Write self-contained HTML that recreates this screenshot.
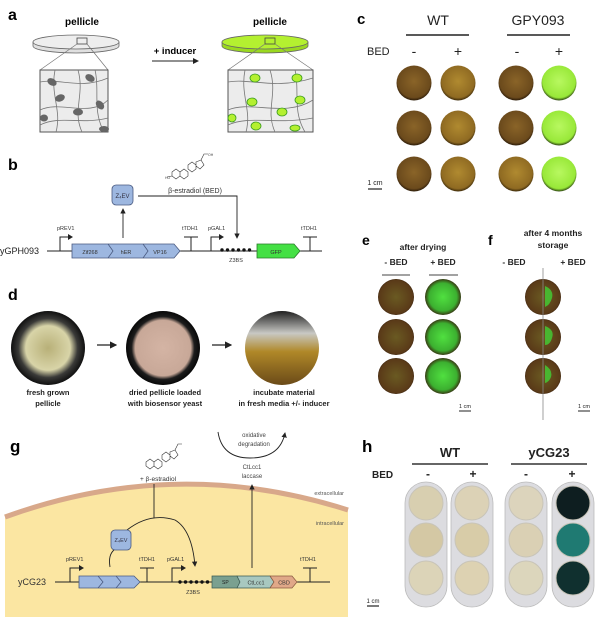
<!DOCTYPE html>
<html><head><meta charset="utf-8"><style>
html,body{margin:0;padding:0;background:#fff;}
svg{display:block;font-family:"Liberation Sans",sans-serif;}
</style></head><body>
<svg width="600" height="622" viewBox="0 0 600 622" xmlns="http://www.w3.org/2000/svg">
<defs>
<radialGradient id="br" cx="50%" cy="45%" r="55%"><stop offset="0" stop-color="#8a6428"/><stop offset="0.85" stop-color="#6b4a1c"/><stop offset="1" stop-color="#2a1a08"/></radialGradient>
<radialGradient id="oc" cx="50%" cy="45%" r="55%"><stop offset="0" stop-color="#b08a30"/><stop offset="0.85" stop-color="#8f6a22"/><stop offset="1" stop-color="#3a2808"/></radialGradient>
<radialGradient id="gr" cx="50%" cy="45%" r="55%"><stop offset="0" stop-color="#b8f860"/><stop offset="0.85" stop-color="#98e838"/><stop offset="1" stop-color="#2a4010"/></radialGradient>
<radialGradient id="eb" cx="50%" cy="50%" r="55%"><stop offset="0" stop-color="#6a5a22"/><stop offset="0.85" stop-color="#5a3a18"/><stop offset="1" stop-color="#1a0e06"/></radialGradient>
<radialGradient id="eg" cx="50%" cy="50%" r="55%"><stop offset="0" stop-color="#50e040"/><stop offset="0.7" stop-color="#3cb030"/><stop offset="0.88" stop-color="#3a4a18"/><stop offset="1" stop-color="#120a04"/></radialGradient>
<radialGradient id="d1" cx="50%" cy="50%" r="50%"><stop offset="0" stop-color="#b8b078"/><stop offset="0.6" stop-color="#d8d4a8"/><stop offset="0.8" stop-color="#3a3a38"/><stop offset="1" stop-color="#101010"/></radialGradient>
<radialGradient id="d2" cx="50%" cy="50%" r="50%"><stop offset="0" stop-color="#d4b4a4"/><stop offset="0.75" stop-color="#c8a898"/><stop offset="0.85" stop-color="#1c1c1c"/><stop offset="1" stop-color="#080808"/></radialGradient>
<linearGradient id="d3" x1="0" y1="0" x2="0" y2="1"><stop offset="0" stop-color="#202020"/><stop offset="0.3" stop-color="#c8c8c4"/><stop offset="0.55" stop-color="#b08828"/><stop offset="1" stop-color="#6a4a18"/></linearGradient>
<marker id="ah" markerWidth="6" markerHeight="6" refX="5" refY="3" orient="auto"><path d="M0,0 L6,3 L0,6 z" fill="#222"/></marker>
</defs>

<!-- ===== a ===== -->
<text x="8" y="20" font-size="16" font-weight="bold">a</text>
<text x="82" y="25" font-size="10" font-weight="bold" text-anchor="middle">pellicle</text>
<text x="270" y="25" font-size="10" font-weight="bold" text-anchor="middle">pellicle</text>
<path d="M33,42 v4 a43,7 0 0 0 86,0 v-4" fill="#e0e0e0" stroke="#666" stroke-width="0.8"/>
<ellipse cx="76" cy="42" rx="43" ry="7" fill="#eeeeee" stroke="#666" stroke-width="0.8"/>
<rect x="77" y="38" width="10" height="6" fill="none" stroke="#444" stroke-width="0.8"/>
<path d="M77,44 L40,70 M87,44 L108,70" stroke="#777" stroke-width="0.7"/>
<rect x="40" y="70" width="68" height="62" fill="#ececec" stroke="#555" stroke-width="1"/>
<g stroke="#777" stroke-width="0.8" fill="none">
<path d="M40,82 C60,78 80,90 108,78"/><path d="M40,110 C60,100 90,118 108,100"/><path d="M55,70 C50,95 62,110 56,132"/><path d="M78,70 C85,95 72,110 82,132"/><path d="M40,125 C60,115 80,125 108,118"/><path d="M95,70 C100,90 92,110 104,132"/>
</g>
<g fill="#666"><ellipse cx="52" cy="82" rx="5" ry="3.5" transform="rotate(30 52 82)"/><ellipse cx="90" cy="78" rx="5" ry="3.5" transform="rotate(30 90 78)"/><ellipse cx="60" cy="98" rx="5" ry="3.5" transform="rotate(-20 60 98)"/><ellipse cx="100" cy="105" rx="5" ry="3.5" transform="rotate(50 100 105)"/><ellipse cx="44" cy="118" rx="4" ry="3.5"/><ellipse cx="78" cy="112" rx="5" ry="3.5"/><ellipse cx="104" cy="129" rx="5" ry="3"/></g>
<text x="175" y="54" font-size="9.5" font-weight="bold" text-anchor="middle">+ inducer</text>
<line x1="152" y1="61" x2="198" y2="61" stroke="#222" stroke-width="1" marker-end="url(#ah)"/>
<path d="M222,42 v4 a43,7 0 0 0 86,0 v-4" fill="#9ad820" stroke="#666" stroke-width="0.8"/>
<ellipse cx="265" cy="42" rx="43" ry="7" fill="#b4f030" stroke="#666" stroke-width="0.8"/>
<rect x="265" y="38" width="10" height="6" fill="none" stroke="#444" stroke-width="0.8"/>
<path d="M265,44 L228,70 M275,44 L313,70" stroke="#777" stroke-width="0.7"/>
<rect x="228" y="70" width="85" height="62" fill="#ececec" stroke="#555" stroke-width="1"/>
<g stroke="#777" stroke-width="0.8" fill="none">
<path d="M228,82 C250,78 275,90 313,78"/><path d="M228,110 C250,100 285,118 313,100"/><path d="M245,70 C240,95 252,110 246,132"/><path d="M270,70 C278,95 265,110 275,132"/><path d="M228,125 C250,115 275,125 313,118"/><path d="M295,70 C300,90 292,110 305,132"/>
</g>
<g fill="#b4f030" stroke="#3a9a20" stroke-width="0.8"><ellipse cx="255" cy="78" rx="5" ry="4"/><ellipse cx="297" cy="78" rx="5" ry="4"/><ellipse cx="252" cy="102" rx="5" ry="4"/><ellipse cx="300" cy="100" rx="5" ry="4"/><ellipse cx="232" cy="118" rx="4" ry="4"/><ellipse cx="256" cy="126" rx="5" ry="4"/><ellipse cx="282" cy="112" rx="5" ry="4"/><ellipse cx="295" cy="128" rx="5" ry="3"/></g>

<!-- ===== b ===== -->
<text x="8" y="170" font-size="16" font-weight="bold">b</text>
<g stroke="#333" stroke-width="0.6" fill="none">
<path d="M172,172 l4,-3 l4,3 l0,4 l-4,3 l-4,-3 z M180,172 l4,-3 l4,3 l0,4 l-4,3 l-4,-3 z M188,165 l4,-3 l4,3 l0,4 l-4,3 l-4,-3 z M196,162 l5,-2 l3,5 l-4,4 l-4,-3 z M201,160 l3,-6 l4,0"/>
<path d="M172,176 l-5,1"/>
</g>
<text x="165" y="179" font-size="3.5" fill="#444">HO</text>
<text x="208" y="156" font-size="3.5" fill="#444">OH</text>
<text x="195" y="193" font-size="7" fill="#333" text-anchor="middle">β-estradiol (BED)</text>
<rect x="112" y="185" width="21" height="20" rx="4" fill="#9db7e0" stroke="#4a5a80" stroke-width="0.8"/>
<text x="122.5" y="198" font-size="6" fill="#334" text-anchor="middle">Z₄EV</text>
<line x1="123" y1="238" x2="123" y2="209" stroke="#222" stroke-width="0.9" marker-end="url(#ah)"/>
<polyline points="138,196 237,196 237,238" fill="none" stroke="#222" stroke-width="0.9" marker-end="url(#ah)"/>
<text x="0" y="254" font-size="9" fill="#222">yGPH093</text>
<line x1="47" y1="251" x2="322" y2="251" stroke="#222" stroke-width="1"/>
<g fill="none" stroke="#222" stroke-width="1"><path d="M60,251 V237 H70"/><path d="M211,251 V237 H221"/><path d="M191,251 V237 M184,237 H198"/><path d="M310,251 V237 M303,237 H317"/></g>
<path d="M68,234 l5,3 l-5,3 z M219,234 l5,3 l-5,3 z" fill="#222"/>
<text x="57" y="230" font-size="5.5" fill="#333">pREV1</text>
<text x="182" y="230" font-size="5.5" fill="#333">tTDH1</text>
<text x="208" y="230" font-size="5.5" fill="#333">pGAL1</text>
<text x="301" y="230" font-size="5.5" fill="#333">tTDH1</text>
<path d="M72,244 H174 L180,251 L174,258 H72 Z" fill="#9db7e0" stroke="#4a5a80" stroke-width="0.8"/>
<path d="M108,244 l5,7 l-5,7 M143,244 l5,7 l-5,7" fill="none" stroke="#4a5a80" stroke-width="0.8"/>
<text x="90" y="254" font-size="5.5" fill="#333" text-anchor="middle">Zif268</text>
<text x="126" y="254" font-size="5.5" fill="#333" text-anchor="middle">hER</text>
<text x="160" y="254" font-size="5.5" fill="#333" text-anchor="middle">VP16</text>
<g fill="#111"><circle cx="222" cy="250" r="1.7"/><circle cx="227.5" cy="250" r="1.7"/><circle cx="233" cy="250" r="1.7"/><circle cx="238.5" cy="250" r="1.7"/><circle cx="244" cy="250" r="1.7"/><circle cx="249.5" cy="250" r="1.7"/></g>
<text x="236" y="262" font-size="5.5" fill="#333" text-anchor="middle">Z3BS</text>
<path d="M257,244 H294 L300,251 L294,258 H257 Z" fill="#44e044" stroke="#2a7a2a" stroke-width="0.8"/>
<text x="276" y="254" font-size="5.5" fill="#333" text-anchor="middle">GFP</text>

<!-- ===== c ===== -->
<text x="357" y="24" font-size="15" font-weight="bold">c</text>
<text x="438" y="25" font-size="14" text-anchor="middle" fill="#222">WT</text>
<text x="538" y="25" font-size="14" text-anchor="middle" fill="#222">GPY093</text>
<line x1="406" y1="35" x2="469" y2="35" stroke="#222" stroke-width="1.5"/>
<line x1="507" y1="35" x2="570" y2="35" stroke="#222" stroke-width="1.5"/>
<text x="367" y="55" font-size="11" fill="#222">BED</text>
<g font-size="14" text-anchor="middle" fill="#222"><text x="414" y="56">-</text><text x="458" y="56">+</text><text x="517" y="56">-</text><text x="559" y="56">+</text></g>
<g>
<circle cx="414" cy="83" r="17.5" fill="url(#br)"/><circle cx="458" cy="83" r="17.5" fill="url(#oc)"/><circle cx="516" cy="83" r="17.5" fill="url(#br)"/><circle cx="559" cy="83" r="17.5" fill="url(#gr)"/>
<circle cx="414" cy="128" r="17.5" fill="url(#br)"/><circle cx="458" cy="128" r="17.5" fill="url(#oc)"/><circle cx="516" cy="128" r="17.5" fill="url(#br)"/><circle cx="559" cy="128" r="17.5" fill="url(#gr)"/>
<circle cx="414" cy="174" r="17.5" fill="url(#br)"/><circle cx="458" cy="174" r="17.5" fill="url(#oc)"/><circle cx="516" cy="174" r="17.5" fill="url(#oc)"/><circle cx="559" cy="174" r="17.5" fill="url(#gr)"/>
</g>
<text x="375" y="185" font-size="7" text-anchor="middle" fill="#222">1 cm</text>
<line x1="368" y1="189" x2="382" y2="189" stroke="#222" stroke-width="1.2"/>

<!-- ===== e ===== -->
<text x="362" y="245" font-size="14" font-weight="bold">e</text>
<text x="423" y="250" font-size="8.5" font-weight="bold" text-anchor="middle" fill="#222">after drying</text>
<text x="396" y="265" font-size="8.5" font-weight="bold" text-anchor="middle" fill="#222">- BED</text>
<text x="443" y="265" font-size="8.5" font-weight="bold" text-anchor="middle" fill="#222">+ BED</text>
<line x1="382" y1="275" x2="410" y2="275" stroke="#444" stroke-width="1"/>
<line x1="429" y1="275" x2="458" y2="275" stroke="#444" stroke-width="1"/>
<g>
<circle cx="396" cy="297" r="18" fill="url(#eb)"/><circle cx="443" cy="297" r="18" fill="url(#eg)"/>
<circle cx="396" cy="337" r="18" fill="url(#eb)"/><circle cx="443" cy="337" r="18" fill="url(#eg)"/>
<circle cx="396" cy="376" r="18" fill="url(#eb)"/><circle cx="443" cy="376" r="18" fill="url(#eg)"/>
</g>
<text x="465" y="408" font-size="5.5" text-anchor="middle" fill="#222">1 cm</text>
<line x1="459" y1="411" x2="471" y2="411" stroke="#222" stroke-width="1"/>

<!-- ===== f ===== -->
<text x="488" y="245" font-size="14" font-weight="bold">f</text>
<text x="553" y="236" font-size="8.5" font-weight="bold" text-anchor="middle" fill="#222">after 4 months</text>
<text x="553" y="248" font-size="8.5" font-weight="bold" text-anchor="middle" fill="#222">storage</text>
<text x="514" y="265" font-size="8.5" font-weight="bold" text-anchor="middle" fill="#222">- BED</text>
<text x="573" y="265" font-size="8.5" font-weight="bold" text-anchor="middle" fill="#222">+ BED</text>
<g>
<circle cx="543" cy="297" r="18" fill="url(#eb)"/><circle cx="543" cy="337" r="18" fill="url(#eb)"/><circle cx="543" cy="376" r="18" fill="url(#eb)"/>
<path d="M545,286 q9,4 7,12 q-2,7 -7,9 z M545,326 q10,4 7,12 q-2,7 -7,7 z M545,365 q8,5 6,12 q-2,5 -6,6 z" fill="#44c834" opacity="0.85"/>
</g>
<line x1="543" y1="268" x2="543" y2="420" stroke="#888" stroke-width="0.8"/>
<text x="584" y="408" font-size="5.5" text-anchor="middle" fill="#222">1 cm</text>
<line x1="578" y1="411" x2="590" y2="411" stroke="#222" stroke-width="1"/>

<!-- ===== d ===== -->
<text x="8" y="300" font-size="16" font-weight="bold">d</text>
<circle cx="48" cy="348" r="37" fill="url(#d1)"/>
<circle cx="163" cy="348" r="37" fill="url(#d2)"/>
<circle cx="282" cy="348" r="37" fill="url(#d3)"/>
<line x1="97" y1="345" x2="116" y2="345" stroke="#222" stroke-width="1.2" marker-end="url(#ah)"/>
<line x1="212" y1="345" x2="231" y2="345" stroke="#222" stroke-width="1.2" marker-end="url(#ah)"/>
<g font-size="7.5" font-weight="bold" fill="#222" text-anchor="middle">
<text x="48" y="395">fresh grown</text><text x="48" y="406">pellicle</text>
<text x="165" y="395">dried pellicle loaded</text><text x="165" y="406">with biosensor yeast</text>
<text x="284" y="395">incubate material</text><text x="284" y="406">in fresh media +/- inducer</text>
</g>

<!-- ===== g ===== -->
<path d="M5,517 Q176,455 348,510 L348,617 L5,617 Z" fill="#fbe6a2"/>
<path d="M5,517 Q176,455 348,510" fill="none" stroke="#d8a88a" stroke-width="5"/>
<text x="10" y="452" font-size="17" font-weight="bold">g</text>
<text x="344" y="495" font-size="5.5" fill="#555" text-anchor="end">extracellular</text>
<text x="344" y="525" font-size="5.5" fill="#555" text-anchor="end">intracellular</text>
<g stroke="#333" stroke-width="0.6" fill="none">
<path d="M146,462 l4,-3 l4,3 l0,4 l-4,3 l-4,-3 z M154,462 l4,-3 l4,3 l0,4 l-4,3 l-4,-3 z M162,455 l4,-3 l4,3 l0,4 l-4,3 l-4,-3 z M170,452 l5,-2 l3,5 l-4,4 l-4,-3 z M175,450 l3,-6 l4,0"/>
</g>
<text x="158" y="481" font-size="6.5" fill="#333" text-anchor="middle">+ β-estradiol</text>
<line x1="154" y1="484" x2="154" y2="518" stroke="#222" stroke-width="0.9"/>
<path d="M127,530 Q150,512 175,520 Q192,530 195,566" fill="none" stroke="#222" stroke-width="0.9" marker-end="url(#ah)"/>
<path d="M110,567 Q108,555 114,550" fill="none" stroke="#222" stroke-width="0.9"/>
<rect x="111" y="530" width="20" height="20" rx="4" fill="#9db7e0" stroke="#4a5a80" stroke-width="0.8"/>
<text x="121" y="542" font-size="5.5" fill="#334" text-anchor="middle">Z₄EV</text>
<path d="M218,432 Q222,458 250,458 Q280,458 285,433" fill="none" stroke="#222" stroke-width="0.9" marker-end="url(#ah)"/>
<text x="254" y="437" font-size="6" fill="#444" text-anchor="middle">oxidative</text>
<text x="254" y="446" font-size="6" fill="#444" text-anchor="middle">degradation</text>
<text x="252" y="469" font-size="6" fill="#444" text-anchor="middle">CtLcc1</text>
<text x="252" y="478" font-size="6" fill="#444" text-anchor="middle">laccase</text>
<line x1="252" y1="568" x2="252" y2="485" stroke="#222" stroke-width="0.9" marker-end="url(#ah)"/>
<text x="18" y="585" font-size="9" fill="#333">yCG23</text>
<line x1="55" y1="582" x2="330" y2="582" stroke="#222" stroke-width="1"/>
<g fill="none" stroke="#222" stroke-width="1"><path d="M70,582 V568 H80"/><path d="M172,582 V568 H182"/><path d="M147,582 V568 M140,568 H154"/><path d="M310,582 V568 M303,568 H317"/></g>
<path d="M79,565 l5,3 l-5,3 z M181,565 l5,3 l-5,3 z" fill="#222"/>
<text x="66" y="561" font-size="5.5" fill="#333">pREV1</text>
<text x="139" y="561" font-size="5.5" fill="#333">tTDH1</text>
<text x="167" y="561" font-size="5.5" fill="#333">pGAL1</text>
<text x="300" y="561" font-size="5.5" fill="#333">tTDH1</text>
<path d="M79,576 H134 L140,582 L134,588 H79 Z" fill="#9db7e0" stroke="#4a5a80" stroke-width="0.8"/>
<path d="M98,576 l5,6 l-5,6 M116,576 l5,6 l-5,6" fill="none" stroke="#4a5a80" stroke-width="0.8"/>
<g fill="#111"><circle cx="180" cy="582" r="1.7"/><circle cx="185.5" cy="582" r="1.7"/><circle cx="191" cy="582" r="1.7"/><circle cx="196.5" cy="582" r="1.7"/><circle cx="202" cy="582" r="1.7"/><circle cx="207.5" cy="582" r="1.7"/></g>
<text x="193" y="594" font-size="5.5" fill="#333" text-anchor="middle">Z3BS</text>
<path d="M212,576 H237 L240,582 L237,588 H212 Z" fill="#7aa090" stroke="#3a5a50" stroke-width="0.7"/>
<path d="M237,576 H270 L274,582 L270,588 H237 L240,582 Z" fill="#a8c8c0" stroke="#3a5a50" stroke-width="0.7"/>
<path d="M270,576 H292 L297,582 L292,588 H270 L274,582 Z" fill="#e0a888" stroke="#8a5a40" stroke-width="0.7"/>
<text x="222" y="584" font-size="5" fill="#222">SP</text>
<text x="256" y="584.5" font-size="5.5" fill="#333" text-anchor="middle">CtLcc1</text>
<text x="284" y="584.5" font-size="5.5" fill="#333" text-anchor="middle">CBD</text>

<!-- ===== h ===== -->
<text x="362" y="452" font-size="17" font-weight="bold">h</text>
<text x="450" y="457" font-size="13" font-weight="bold" text-anchor="middle" fill="#222">WT</text>
<text x="549" y="457" font-size="13" font-weight="bold" text-anchor="middle" fill="#222">yCG23</text>
<line x1="412" y1="464" x2="488" y2="464" stroke="#333" stroke-width="1.5"/>
<line x1="511" y1="464" x2="587" y2="464" stroke="#333" stroke-width="1.5"/>
<text x="372" y="478" font-size="10" font-weight="bold" fill="#222">BED</text>
<g font-size="12" font-weight="bold" text-anchor="middle" fill="#222"><text x="428" y="478">-</text><text x="473" y="478">+</text><text x="526" y="478">-</text><text x="572" y="478">+</text></g>
<g fill="#dcdce0" stroke="#bbb" stroke-width="0.8">
<rect x="405" y="482" width="42" height="125" rx="21"/><rect x="451" y="482" width="42" height="125" rx="21"/><rect x="505" y="482" width="42" height="125" rx="21"/><rect x="552" y="482" width="42" height="125" rx="21"/>
</g>
<g stroke="#c8c4b8" stroke-width="1">
<circle cx="426" cy="503" r="17" fill="#d8cfb0"/><circle cx="426" cy="540" r="17" fill="#d4c8a4"/><circle cx="426" cy="578" r="17" fill="#dcd4b8"/>
<circle cx="472" cy="503" r="17" fill="#dcd2b6"/><circle cx="472" cy="540" r="17" fill="#d8cca8"/><circle cx="472" cy="578" r="17" fill="#ddd2b2"/>
<circle cx="526" cy="503" r="17" fill="#dcd4bc"/><circle cx="526" cy="540" r="17" fill="#dad0b4"/><circle cx="526" cy="578" r="17" fill="#dcd6bc"/>
<circle cx="573" cy="503" r="17" fill="#0e1e20"/><circle cx="573" cy="540" r="17" fill="#1f7a72"/><circle cx="573" cy="578" r="17" fill="#10302f"/>
</g>
<text x="373" y="603" font-size="6" text-anchor="middle" fill="#222">1 cm</text>
<line x1="367" y1="606" x2="379" y2="606" stroke="#222" stroke-width="1.2"/>
</svg>
</body></html>
